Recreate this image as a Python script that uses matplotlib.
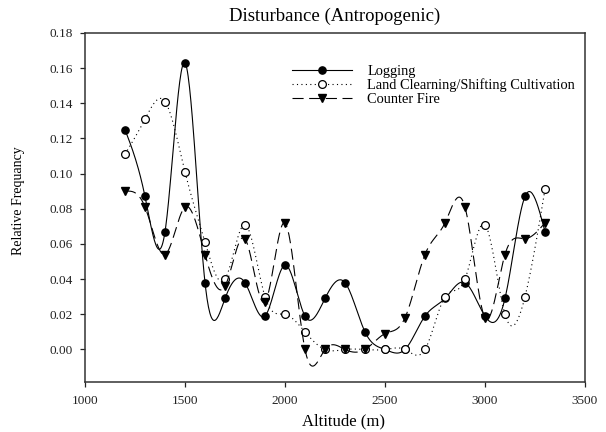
import numpy as np
import matplotlib
matplotlib.use("Agg")
import matplotlib.pyplot as plt

plt.rcParams['font.family'] = ['Liberation Serif', 'DejaVu Serif']

altitude = [1200, 1300, 1400, 1500, 1600, 1700, 1800, 1900, 2000, 2100, 2200,
            2300, 2400, 2500, 2600, 2700, 2800, 2900, 3000, 3100, 3200, 3300]
logging = [0.125, 0.087, 0.067, 0.163, 0.038, 0.029, 0.038, 0.019, 0.048, 0.019, 0.029,
           0.038, 0.010, 0.000, 0.000, 0.019, 0.029, 0.038, 0.019, 0.029, 0.087, 0.067]
land_clearing = [0.111, 0.131, 0.141, 0.101, 0.061, 0.040, 0.071, 0.030, 0.020, 0.010, 0.000,
                 0.000, 0.000, 0.000, 0.000, 0.000, 0.030, 0.040, 0.071, 0.020, 0.030, 0.091]
counter_fire = [0.090, 0.081, 0.054, 0.081, 0.054, 0.036, 0.063, 0.027, 0.072, 0.000, 0.000,
                0.000, 0.000, 0.009, 0.018, 0.054, 0.072, 0.081, 0.018, 0.054, 0.063, 0.072]


# natural cubic spline through the points, like the smoothed sigmaplot curves
def spline(x, y, n=600):
    x = np.asarray(x, float)
    y = np.asarray(y, float)
    k = len(x)
    h = np.diff(x)
    A = np.zeros((k, k))
    b = np.zeros(k)
    A[0, 0] = 1
    A[-1, -1] = 1
    for i in range(1, k - 1):
        A[i, i - 1] = h[i - 1]
        A[i, i] = 2 * (h[i - 1] + h[i])
        A[i, i + 1] = h[i]
        b[i] = 6 * ((y[i + 1] - y[i]) / h[i] - (y[i] - y[i - 1]) / h[i - 1])
    m = np.linalg.solve(A, b)
    xs = np.linspace(x[0], x[-1], n)
    idx = np.clip(np.searchsorted(x, xs) - 1, 0, k - 2)
    x0, x1 = x[idx], x[idx + 1]
    hh = x1 - x0
    t0 = x1 - xs
    t1 = xs - x0
    ys = (m[idx] * t0**3 + m[idx + 1] * t1**3) / (6 * hh) \
        + (y[idx] / hh - m[idx] * hh / 6) * t0 \
        + (y[idx + 1] / hh - m[idx + 1] * hh / 6) * t1
    return xs, ys


fig = plt.figure(figsize=(6.06, 4.32), dpi=100)
ax = fig.add_axes([0.1403, 0.1157, 0.825, 0.808])

series = [
    ("Logging", logging, dict(linestyle='-'), dict(marker='o', mfc='black', mec='black', ms=5.2)),
    ("Land Clearning/Shifting Cultivation", land_clearing, dict(linestyle=(0, (1, 3))),
     dict(marker='o', mfc='white', mec='black', ms=5.6, mew=0.9)),
    ("Counter Fire", counter_fire, dict(linestyle=(0, (10, 5))),
     dict(marker='v', mfc='black', mec='black', ms=5.8)),
]

handles = []
for name, vals, lsty, msty in series:
    xs, ys = spline(altitude, vals)
    ax.plot(xs, ys, color='black', lw=0.8, **lsty)
    ax.plot(altitude, vals, linestyle='none', **msty)
    h, = ax.plot([], [], color='black', lw=0.8, label=name, **lsty, **msty)
    handles.append(h)

ax.legend(handles=handles, loc='upper left', bbox_to_anchor=(0.4, 0.93),
          frameon=False, fontsize=10.4, handlelength=4.15, handletextpad=1.04,
          labelspacing=0.05, borderpad=0, markerfirst=True)

ax.set_xlim(1000, 3500)
ax.set_ylim(-0.0185, 0.18)
ax.set_xticks([1000, 1500, 2000, 2500, 3000, 3500])
ax.set_yticks(np.arange(0, 0.181, 0.02))
ax.yaxis.set_major_formatter(matplotlib.ticker.FormatStrFormatter('%.2f'))
ax.tick_params(direction='out', length=3.6, width=0.9, labelsize=9.5, colors='#222222')
ax.tick_params(axis='y', pad=5)
ax.tick_params(axis='x', pad=5.5)
for s in ax.spines.values():
    s.set_linewidth(1.1)
    s.set_color('#333333')

ax.set_title("Disturbance (Antropogenic)", fontsize=13.5, pad=8.6)
ax.set_xlabel("Altitude (m)", fontsize=12)
ax.xaxis.set_label_coords(0.518, -0.089)
ax.set_ylabel("Relative Frequancy", fontsize=10)
ax.yaxis.set_label_coords(-0.12, 0.519)

fig.savefig("out.png", dpi=100)
